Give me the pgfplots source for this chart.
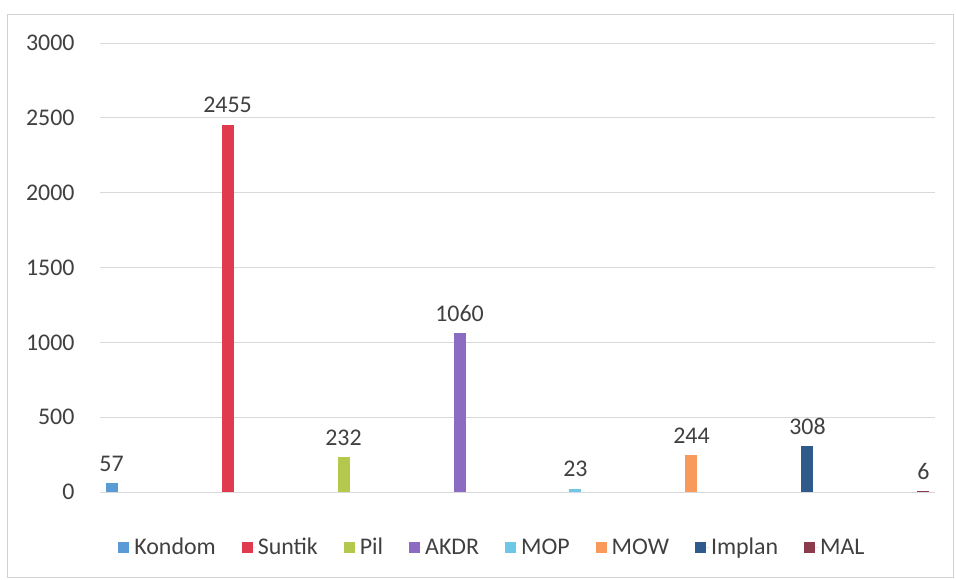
\documentclass[border=0pt]{standalone}
\usepackage{pgfplots}
\pgfplotsset{compat=1.18}
\usepackage{fontspec}
\setmainfont{Carlito}
\definecolor{cKondom}{HTML}{5B9BD5}
\definecolor{cSuntik}{HTML}{E03A4E}
\definecolor{cPil}{HTML}{B3C84C}
\definecolor{cAKDR}{HTML}{8C6BC2}
\definecolor{cMOP}{HTML}{6EC7E6}
\definecolor{cMOW}{HTML}{F79A5C}
\definecolor{cImplan}{HTML}{2F5B8C}
\definecolor{cMAL}{HTML}{8C3B4C}
\definecolor{txt}{HTML}{404040}
\begin{document}
\begin{tikzpicture}[x=1bp,y=1bp]
\useasboundingbox (0,0) rectangle (956,580);
\draw[color=black!18,line width=0.8bp] (7,3) rectangle (953,566);
\begin{axis}[
  at={(100bp,88bp)}, anchor=south west,
  scale only axis, width=835bp, height=449bp,
  xmin=-0.1, xmax=7.1, ymin=0, ymax=3000,
  ytick={0,500,...,3000}, xtick=\empty,
  ymajorgrids, major grid style={color=black!15,line width=0.8bp},
  axis line style={draw=none}, major tick length=0pt,
  font=\fontsize{24}{28}\selectfont,
  tick label style={color=txt},
  yticklabel style={xshift=-22bp},
  /pgf/number format/assume math mode=true,
  scaled y ticks=false,
  /pgf/number format/set thousands separator={},
  ybar, bar width=12bp, bar shift=0pt,
  nodes near coords,
  every node near coord/.append style={color=txt, yshift=8bp},
  legend columns=8,
  legend style={draw=none, fill=none, at={(0.47,-0.123)}, anchor=center,
    text=txt, font=\fontsize{24}{28}\selectfont,
    /tikz/every even column/.append style={column sep=24bp},
    /tikz/every odd column/.append style={column sep=0bp}},
  legend image code/.code={\path (0bp,0bp) -- (14bp,0bp);\fill[#1] (0bp,-5.5bp) rectangle (11bp,5.5bp);},
  clip=false,
]
\addplot[fill=cKondom,draw=none] coordinates {(0,57)};
\addlegendentry{Kondom}
\addplot[fill=cSuntik,draw=none] coordinates {(1,2455)};
\addlegendentry{Suntik}
\addplot[fill=cPil,draw=none] coordinates {(2,232)};
\addlegendentry{Pil}
\addplot[fill=cAKDR,draw=none] coordinates {(3,1060)};
\addlegendentry{AKDR}
\addplot[fill=cMOP,draw=none] coordinates {(4,23)};
\addlegendentry{MOP}
\addplot[fill=cMOW,draw=none] coordinates {(5,244)};
\addlegendentry{MOW}
\addplot[fill=cImplan,draw=none] coordinates {(6,308)};
\addlegendentry{Implan}
\addplot[fill=cMAL,draw=none] coordinates {(7,6)};
\addlegendentry{MAL}
\end{axis}
\end{tikzpicture}
\end{document}
